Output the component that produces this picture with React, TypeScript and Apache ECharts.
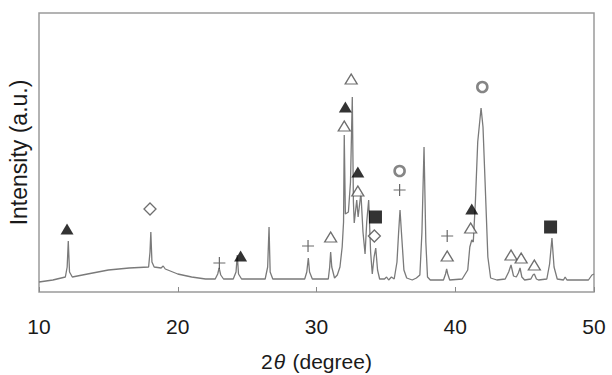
import React, { useEffect, useRef } from "react";
import * as echarts from "echarts";

// Diffraction scan: 2θ (degree) and intensity (arbitrary units)
const scanAngles = [
  10.0, 11.0, 11.9, 12.03, 12.11, 12.2, 12.4, 13.5, 15.0, 16.5, 17.9, 18.0, 18.06, 18.14, 18.3, 18.8, 18.95, 19.1,
  20.0, 21.0, 22.0, 22.7, 22.88, 22.98, 23.1, 23.3, 24.0, 24.2, 24.29, 24.38, 24.6, 26.3, 26.48, 26.58, 26.66, 26.85,
  29.15, 29.3, 29.41, 29.5, 29.7, 30.85, 30.95, 31.02, 31.1, 31.3, 31.5, 31.69, 31.85, 31.95, 32.0, 32.08, 32.3,
  32.45, 32.58, 32.66, 32.72, 32.9, 33.0, 33.2, 33.35, 33.5, 33.62, 33.76, 33.9, 34.02, 34.15, 34.27, 34.4, 34.55,
  34.9, 35.05, 35.2, 35.4, 35.6, 35.8, 35.92, 36.02, 36.12, 36.3, 36.5, 36.9, 37.2, 37.45, 37.6, 37.75, 37.88, 38.0,
  38.2, 39.15, 39.3, 39.38, 39.46, 39.6, 40.5, 40.9, 41.05, 41.19, 41.3, 41.45, 41.62, 41.86, 42.0, 42.15, 42.35,
  42.55, 43.0, 43.6, 43.85, 44.02, 44.2, 44.4, 44.55, 44.67, 44.8, 45.0, 45.45, 45.6, 45.7, 45.85, 46.0, 46.6, 46.8,
  46.97, 47.12, 47.35, 47.8, 47.92, 48.05, 49.6, 49.85, 50.0,
];
const scanIntensity = [
  10, 12, 15, 25, 51, 20, 15, 18, 22, 24, 25, 40, 60, 30, 25, 24, 26, 23,
  18, 15, 13, 13, 18, 24, 17, 13, 13, 20, 37, 18, 13, 13, 25, 65, 20, 13,
  13, 20, 34, 20, 13, 13, 25, 40, 25, 14, 17, 25, 45, 70, 157, 78, 80,
  110, 195, 90, 69, 92, 75, 99, 60, 38, 70, 92, 40, 18, 35, 44, 22, 13,
  13, 15, 12, 15, 13, 30, 60, 82, 60, 22, 14, 12, 14, 17, 60, 145, 50, 15,
  12, 12, 18, 23, 18, 12, 13, 22, 45, 52, 50, 90, 150, 184, 165, 110, 35,
  14, 12, 13, 20, 27, 16, 15, 19, 24, 15, 12, 13, 17, 18, 13, 12, 13, 28,
  54, 25, 13, 12, 15, 12, 12, 17, 18,
];

// Phase markers: [2θ, marker height]
const filledTriangles = [[12.02, 63], [24.53, 36], [32.08, 185], [32.98, 120], [41.19, 83]];
const openTriangles = [[31.02, 55], [32.0, 166], [32.5, 213], [32.98, 101], [39.42, 36], [41.11, 64], [44.02, 37], [44.75, 34], [45.7, 27]];
const diamonds = [[18.0, 83], [34.17, 56]];
const plusSigns = [[23.0, 29], [29.39, 46], [35.99, 102], [39.42, 56]];
const circles = [[35.99, 121], [41.95, 205]];
const squares = [[34.25, 75], [46.87, 65]];

const xTicks = [10, 20, 30, 40, 50];

const FONT = "'Liberation Sans', Arial, sans-serif";
const PLUS_PATH = "path://M5.4,0H6.6V5.4H12V6.6H6.6V12H5.4V6.6H0V5.4H5.4Z";

export default function App() {
  const ref = useRef<HTMLDivElement>(null);
  useEffect(() => {
    if (!ref.current) return;
    const chart = echarts.init(ref.current, null, { renderer: "svg" });
    const curve = scanAngles.map((a, i) => [a, scanIntensity[i]]);
    chart.setOption({
      animation: false,
      backgroundColor: "#fff",
      grid: {
        left: 39,
        right: 18,
        top: 13,
        bottom: 83,
        outerBoundsMode: "none",
        containLabel: false,
        show: true,
        borderColor: "#9a9a9a",
        borderWidth: 1.5,
        backgroundColor: "transparent",
      },
      xAxis: {
        type: "value",
        min: xTicks[0],
        max: xTicks[xTicks.length - 1],
        interval: 10,
        axisLine: { show: false },
        axisTick: { show: true, inside: true, length: 5, lineStyle: { color: "#8a8a8a", width: 1 } },
        splitLine: { show: false },
        axisLabel: { fontSize: 21, color: "#1a1a1a", fontFamily: FONT, margin: 24 },
        name: "{a|2}{b|θ} {a|(degree)}",
        nameLocation: "middle",
        nameGap: 58,
        nameTextStyle: {
          rich: {
            a: { fontSize: 21, color: "#1a1a1a", fontFamily: FONT, lineHeight: 22 },
            b: { fontSize: 21, color: "#1a1a1a", fontFamily: FONT, fontStyle: "italic", lineHeight: 22, padding: [0, 4, 0, 1] },
          },
        },
      },
      yAxis: {
        type: "value",
        min: 0,
        max: 279,
        axisLine: { show: false },
        axisTick: { show: false },
        axisLabel: { show: false },
        splitLine: { show: false },
        name: "Intensity (a.u.)",
        nameLocation: "middle",
        nameGap: 9,
        nameTextStyle: { fontSize: 23, color: "#1a1a1a", fontFamily: FONT },
      },
      series: [
        {
          type: "line",
          data: curve,
          showSymbol: false,
          symbol: "none",
          lineStyle: { color: "#7a7a7a", width: 1.3 },
          z: 2,
        },
        {
          type: "scatter",
          data: filledTriangles,
          symbol: "triangle",
          symbolSize: [13, 11],
          itemStyle: { color: "#000" },
          z: 5,
        },
        {
          type: "scatter",
          data: openTriangles,
          symbol: "triangle",
          symbolSize: [12, 10],
          itemStyle: { color: "#fff", borderColor: "#4a4a4a", borderWidth: 1.3 },
          z: 5,
        },
        {
          type: "scatter",
          data: diamonds,
          symbol: "diamond",
          symbolSize: [12, 12],
          itemStyle: { color: "#fff", borderColor: "#4a4a4a", borderWidth: 1.3 },
          z: 5,
        },
        {
          type: "scatter",
          data: plusSigns,
          symbol: PLUS_PATH,
          symbolSize: 12,
          itemStyle: { color: "#444" },
          z: 5,
        },
        {
          type: "scatter",
          data: circles,
          symbol: "circle",
          symbolSize: 10,
          itemStyle: { color: "#fff", borderColor: "#666", borderWidth: 2.6 },
          z: 5,
        },
        {
          type: "scatter",
          data: squares,
          symbol: "rect",
          symbolSize: 13,
          itemStyle: { color: "#000" },
          z: 5,
        },
      ],
    });
    return () => chart.dispose();
  }, []);
  return <div ref={ref} style={{ width: 612, height: 375, position: "absolute", left: 0, top: 0 }} />;
}
